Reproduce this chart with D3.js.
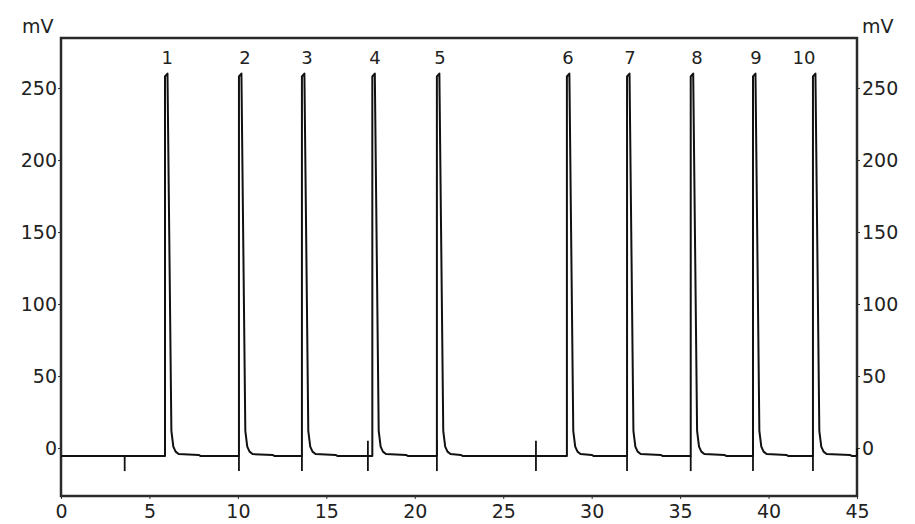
<!DOCTYPE html>
<html lang="en">
<head>
<meta charset="UTF-8">
<title>Chromatogram</title>
<script src="https://cdnjs.cloudflare.com/ajax/libs/d3/7.8.5/d3.min.js"></script>
<style>
    body { margin: 0; background: #fff; }
    text { font-family: "DejaVu Sans", Verdana, sans-serif; fill: #222; }
    .axis text { font-size: 19px; }
    .axis line { stroke: #333; }
    .axis path { display: none; }
</style>
</head>
<body>
<svg width="915" height="524" id="chart"></svg>
<script>
    // axis ticks
    var xTicks = [0, 5, 10, 15, 20, 25, 30, 35, 40, 45];
    var yTicks = [0, 50, 100, 150, 200, 250];

    // peak numbers and where their labels sit (min)
    var peakNames = ["1", "2", "3", "4", "5", "6", "7", "8", "9", "10"];
    var labelTimes = [6.0, 10.4, 13.9, 17.75, 21.42, 28.66, 32.17, 35.95, 39.29, 42.0];

    // detector trace, [min, mV]
    var trace = [
        [0, -5.5], [5.88, -5.5],
        [5.88, 258], [6.02, 260], [6.24, 12], [6.35, 1], [6.48, -2.5], [6.65, -4.2], [7.78, -4.8], [7.88, -5.5],
        [10.06, -5.5],
        [10.06, 258], [10.2, 260], [10.42, 12], [10.53, 1], [10.66, -2.5], [10.83, -4.2], [11.96, -4.8], [12.06, -5.5],
        [13.62, -5.5],
        [13.62, 258], [13.76, 260], [13.98, 12], [14.09, 1], [14.22, -2.5], [14.39, -4.2], [15.52, -4.8], [15.62, -5.5],
        [17.6, -5.5],
        [17.6, 258], [17.74, 260], [17.96, 12], [18.07, 1], [18.2, -2.5], [18.37, -4.2], [19.5, -4.8], [19.6, -5.5],
        [21.25, -5.5],
        [21.25, 258], [21.39, 260], [21.61, 12], [21.72, 1], [21.85, -2.5], [22.02, -4.2], [22.6, -4.8], [22.7, -5.5],
        [28.6, -5.5],
        [28.6, 258], [28.74, 260], [28.96, 12], [29.07, 1], [29.2, -2.5], [29.37, -4.2], [30.0, -4.8], [30.1, -5.5],
        [32.0, -5.5],
        [32.0, 258], [32.14, 260], [32.36, 12], [32.47, 1], [32.6, -2.5], [32.77, -4.2], [33.9, -4.8], [34.0, -5.5],
        [35.6, -5.5],
        [35.6, 258], [35.74, 260], [35.96, 12], [36.07, 1], [36.2, -2.5], [36.37, -4.2], [37.5, -4.8], [37.6, -5.5],
        [39.12, -5.5],
        [39.12, 258], [39.26, 260], [39.48, 12], [39.59, 1], [39.72, -2.5], [39.89, -4.2], [41.0, -4.8], [41.1, -5.5],
        [42.51, -5.5],
        [42.51, 258], [42.65, 260], [42.87, 12], [42.98, 1], [43.11, -2.5], [43.28, -4.2], [44.6, -4.8], [44.7, -5.5],
        [45, -5.5]
    ];

    // integration event marks, [min, top mV, bottom mV]
    var marks = [
        [3.6, -5.5, -16], [10.06, -5.5, -16], [13.62, -5.5, -16], [17.35, 5, -16],
        [21.25, 5, -16], [26.85, 5, -16], [32.0, -5.5, -16], [35.6, -5.5, -16],
        [39.12, -5.5, -16], [42.51, -5.5, -16], [45, 0, -5.5]
    ];

    var svg = d3.select("#chart");
    var padL = 61, padR = 857, padT = 38, padB = 496;

    var x = d3.scaleLinear().domain([0, 45]).range([padL, padR]);
    var y = d3.scaleLinear().domain([-33.3, 284.7]).range([padB, padT]);

    svg.append("g")
        .attr("class", "axis")
        .attr("transform", "translate(0," + padB + ")")
        .call(d3.axisBottom(x).tickValues(xTicks).tickSize(3).tickPadding(6));

    svg.append("g")
        .attr("class", "axis")
        .attr("transform", "translate(" + padL + ",0)")
        .call(d3.axisLeft(y).tickValues(yTicks).tickSize(3).tickPadding(1));

    svg.append("g")
        .attr("class", "axis")
        .attr("transform", "translate(" + padR + ",0)")
        .call(d3.axisRight(y).tickValues(yTicks).tickSize(3).tickPadding(2));

    svg.append("rect")
        .attr("x", padL).attr("y", padT)
        .attr("width", padR - padL).attr("height", padB - padT)
        .attr("fill", "none").attr("stroke", "#2a2a2a").attr("stroke-width", 2.5);

    svg.append("text").attr("x", 22).attr("y", 33).style("font-size", "19px").text("mV");
    svg.append("text").attr("x", 862).attr("y", 33).style("font-size", "19px").text("mV");

    var line = d3.line()
        .x(function (d) { return x(d[0]); })
        .y(function (d) { return y(d[1]); });

    svg.append("path")
        .datum(trace)
        .attr("d", line)
        .attr("fill", "none")
        .attr("stroke", "#111")
        .attr("stroke-width", 2)
        .attr("stroke-linejoin", "round");

    svg.selectAll(".mark")
        .data(marks)
        .enter().append("line")
        .attr("class", "mark")
        .attr("x1", function (d) { return x(d[0]); })
        .attr("x2", function (d) { return x(d[0]); })
        .attr("y1", function (d) { return y(d[1]); })
        .attr("y2", function (d) { return y(d[2]); })
        .attr("stroke", "#111")
        .attr("stroke-width", 1.8);

    svg.selectAll(".peak-label")
        .data(peakNames)
        .enter().append("text")
        .attr("class", "peak-label")
        .attr("x", function (d, i) { return x(labelTimes[i]); })
        .attr("y", y(263) - 5)
        .attr("text-anchor", "middle")
        .style("font-size", "18px")
        .text(function (d) { return d; });
</script>
</body>
</html>
